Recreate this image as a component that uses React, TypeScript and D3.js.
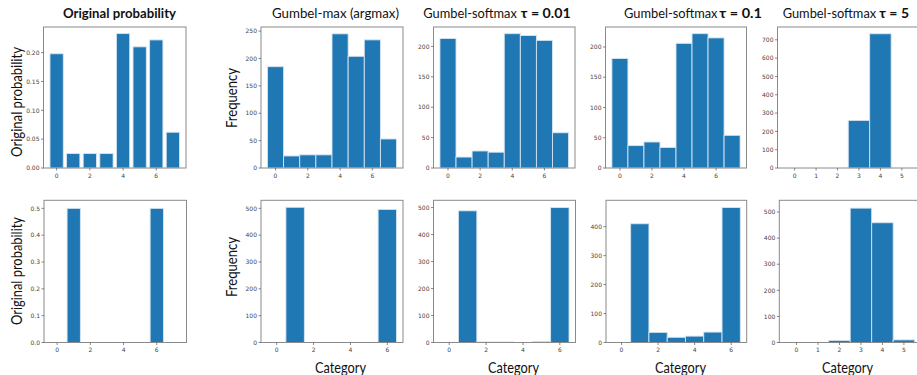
import React from "react";
import * as d3 from "d3";

// ---------- data ----------
const origProbTop = [0.198, 0.025, 0.025, 0.025, 0.233, 0.21, 0.222, 0.062];
const gumbelMaxTop = [185, 22, 24, 24, 245, 204, 234, 53];
const softmax001Top = [213, 18, 28, 26, 221, 218, 210, 58];
const softmax01Top = [181, 37, 43, 34, 206, 222, 215, 54];
const softmax5Top = [0, 0, 0, 260, 733, 0];

const origProbBottom = [0, 0.5, 0, 0, 0, 0, 0.5, 0];
const gumbelMaxBottom = [0, 504, 0, 0, 0, 0, 496];
const softmax001Bottom = [0, 488, 2, 2, 0, 4, 500];
const softmax01Bottom = [0, 410, 35, 18, 22, 36, 466];
const softmax5Bottom = [0, 0, 8, 515, 459, 10];

const xTicksEven = [0, 2, 4, 6];
const xTicksAll = [0, 1, 2, 3, 4, 5];
const probTicksTop = [0, 0.05, 0.1, 0.15, 0.2];
const probTicksBottom = [0, 0.1, 0.2, 0.3, 0.4, 0.5];
const ticks250 = [0, 50, 100, 150, 200, 250];
const ticks200 = [0, 50, 100, 150, 200];
const ticks700 = [0, 100, 200, 300, 400, 500, 600, 700];
const ticks500 = [0, 100, 200, 300, 400, 500];
const ticks400 = [0, 100, 200, 300, 400];

const BLUE = "#1f77b4";

type PanelSpec = {
  values: number[];
  left: number;
  top: number;
  width: number;
  height: number;
  xDomain: [number, number];
  yMax: number;
  xTicks: number[];
  yTicks: number[];
  yFmt: (v: number) => string;
  barWidth: number;
};

function Panel({ p }: { p: PanelSpec }) {
  const x = d3.scaleLinear().domain(p.xDomain).range([p.left, p.left + p.width]);
  const y = d3.scaleLinear().domain([0, p.yMax]).range([p.top + p.height, p.top]);
  const bottom = p.top + p.height;
  return (
    <g>
      {p.values.map((v, i) =>
        v > 0 ? (
          <rect
            key={i}
            x={x(i - p.barWidth / 2)}
            y={y(v)}
            width={x(i + p.barWidth / 2) - x(i - p.barWidth / 2)}
            height={bottom - y(v)}
            fill={BLUE}
            stroke="#d6e4f1"
            strokeWidth={0.9}
          />
        ) : null
      )}
      <rect
        x={p.left}
        y={p.top}
        width={p.width}
        height={p.height}
        fill="none"
        stroke="#8a8a8a"
        strokeWidth={1}
      />
      {p.xTicks.map((t) => (
        <g key={"x" + t}>
          <line x1={x(t)} x2={x(t)} y1={bottom} y2={bottom + 2.5} stroke="#555" strokeWidth={0.7} />
          <text
            x={x(t)}
            y={bottom + 9.5}
            textAnchor="middle"
            fontSize={6}
            fill="#444"
            fontFamily="DejaVu Sans"
          >
            {t}
          </text>
        </g>
      ))}
      {p.yTicks.map((t) => (
        <g key={"y" + t}>
          <line x1={p.left - 2.5} x2={p.left} y1={y(t)} y2={y(t)} stroke="#555" strokeWidth={0.7} />
          <text
            x={p.left - 4}
            y={y(t) + 2.2}
            textAnchor="end"
            fontSize={6}
            fill="#444"
            fontFamily="DejaVu Sans"
          >
            {p.yFmt(t)}
          </text>
        </g>
      ))}
    </g>
  );
}

const f2 = (v: number) => v.toFixed(2);
const f1 = (v: number) => v.toFixed(1);
const f0 = (v: number) => String(v);

export default function App() {
  const topY = 27;
  const topH = 141;
  const botY = 200.3;
  const botH = 142.2;
  const panels: PanelSpec[] = [
    { values: origProbTop, left: 43.5, top: topY, width: 142.5, height: topH, xDomain: [-0.79, 7.79], yMax: 0.2444, xTicks: xTicksEven, yTicks: probTicksTop, yFmt: f2, barWidth: 0.8 },
    { values: gumbelMaxTop, left: 261, top: topY, width: 142, height: topH, xDomain: [-0.9, 7.9], yMax: 257.5, xTicks: xTicksEven, yTicks: ticks250, yFmt: f0, barWidth: 1 },
    { values: softmax001Top, left: 433.5, top: topY, width: 141.5, height: topH, xDomain: [-0.9, 7.9], yMax: 232, xTicks: xTicksEven, yTicks: ticks200, yFmt: f0, barWidth: 1 },
    { values: softmax01Top, left: 605.5, top: topY, width: 141, height: topH, xDomain: [-0.9, 7.9], yMax: 233, xTicks: xTicksEven, yTicks: ticks200, yFmt: f0, barWidth: 1 },
    { values: softmax5Top, left: 777.5, top: topY, width: 141.5, height: topH, xDomain: [-0.8, 5.8], yMax: 770, xTicks: xTicksAll, yTicks: ticks700, yFmt: f0, barWidth: 1 },
    { values: origProbBottom, left: 44, top: botY, width: 142.5, height: botH, xDomain: [-0.79, 7.79], yMax: 0.53, xTicks: xTicksEven, yTicks: probTicksBottom, yFmt: f1, barWidth: 0.8 },
    { values: gumbelMaxBottom, left: 261, top: botY, width: 142, height: botH, xDomain: [-0.85, 6.85], yMax: 530, xTicks: xTicksEven, yTicks: ticks500, yFmt: f0, barWidth: 1 },
    { values: softmax001Bottom, left: 433.5, top: botY, width: 142, height: botH, xDomain: [-0.85, 6.85], yMax: 527, xTicks: xTicksEven, yTicks: ticks500, yFmt: f0, barWidth: 1 },
    { values: softmax01Bottom, left: 606, top: botY, width: 140.7, height: botH, xDomain: [-0.85, 6.85], yMax: 491, xTicks: xTicksEven, yTicks: ticks400, yFmt: f0, barWidth: 1 },
    { values: softmax5Bottom, left: 779.3, top: botY, width: 141.8, height: botH, xDomain: [-0.8, 5.8], yMax: 545, xTicks: xTicksAll, yTicks: ticks500, yFmt: f0, barWidth: 1 },
  ];

  const font = "Lato, 'Open Sans', sans-serif";
  const adj = "spacingAndGlyphs";

  const softTitles = [
    { x: 423.3, boldX: 520.7, tau: "τ = 0.01", boldW: 50 },
    { x: 624, boldX: 719.3, tau: "τ = 0.1", boldW: 42.7 },
    { x: 782.7, boldX: 879.3, tau: "τ = 5", boldW: 29.7 },
  ];

  return (
    <svg
      width={917}
      height={375}
      style={{ position: "absolute", left: 0, top: 0, background: "white" }}
      fontFamily={font}
    >
      <rect x={0} y={0} width={917} height={375} fill="white" />
      {panels.map((p, i) => (
        <Panel key={i} p={p} />
      ))}

      {/* titles */}
      <text x={63} y={18} fontSize={14} fontWeight="bold" fill="#111" textLength={113} lengthAdjust={adj}>
        Original probability
      </text>
      <text x={272} y={18} fontSize={14} fill="#111" textLength={127} lengthAdjust={adj}>
        Gumbel-max (argmax)
      </text>
      {softTitles.map((t) => (
        <g key={t.tau}>
          <text x={t.x} y={18} fontSize={13.2} fill="#111" textLength={93.5} lengthAdjust={adj}>
            Gumbel-softmax
          </text>
          <text x={t.boldX} y={18} fontSize={13.2} fontWeight="bold" fill="#111" textLength={t.boldW} lengthAdjust={adj}>
            {t.tau}
          </text>
        </g>
      ))}

      {/* y labels */}
      <text transform="translate(22,157) rotate(-90)" fontSize={16} fill="#111" textLength={110} lengthAdjust={adj}>
        Original probability
      </text>
      <text transform="translate(22,325) rotate(-90)" fontSize={16} fill="#111" textLength={108} lengthAdjust={adj}>
        Original probability
      </text>
      <text transform="translate(237,128) rotate(-90)" fontSize={16} fill="#111" textLength={60} lengthAdjust={adj}>
        Frequency
      </text>
      <text transform="translate(237,297) rotate(-90)" fontSize={16} fill="#111" textLength={60} lengthAdjust={adj}>
        Frequency
      </text>

      {/* x labels */}
      {[315, 488, 655, 822].map((lx) => (
        <text key={lx} x={lx} y={372.5} fontSize={16} fill="#111" textLength={51} lengthAdjust={adj}>
          Category
        </text>
      ))}
    </svg>
  );
}
